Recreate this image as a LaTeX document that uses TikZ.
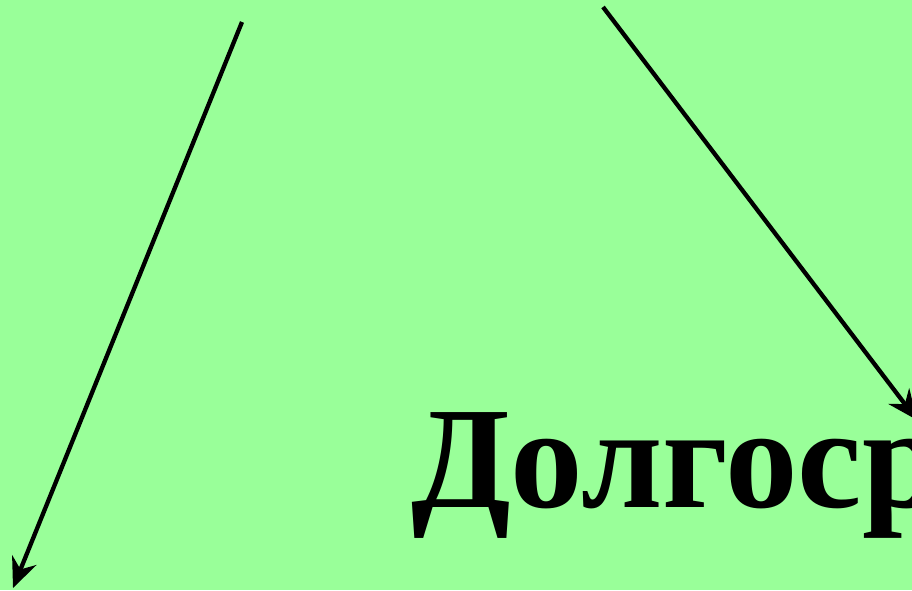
\documentclass[tikz,border=0pt]{standalone}
\usepackage{fontspec}
\setmainfont{Liberation Serif}
\usetikzlibrary{arrows.meta}
\definecolor{bg}{HTML}{99FF99}
\tikzset{
  arr/.style={line width=4.3pt, -{Stealth[length=30pt,width=26pt,inset=10pt]}},
  big/.style={font=\bfseries\fontsize{145}{150}\selectfont, inner sep=0pt, anchor=base west}
}
\begin{document}
\begin{tikzpicture}[x=1pt,y=-1pt]
\useasboundingbox (0,0) rectangle (912,590);
\clip (0,0) rectangle (912,590);
\fill[bg] (0,0) rectangle (912,590);
\coordinate (a1) at (242,22);
\coordinate (a2) at (13,588);
\coordinate (b1) at (603,7);
\coordinate (b2) at (917,420);
\draw[arr] (a1) -- (a2);
\draw[arr] (b1) -- (b2);
\node[big] (t) at (411,507) {Долгоср};
\end{tikzpicture}
\end{document}
